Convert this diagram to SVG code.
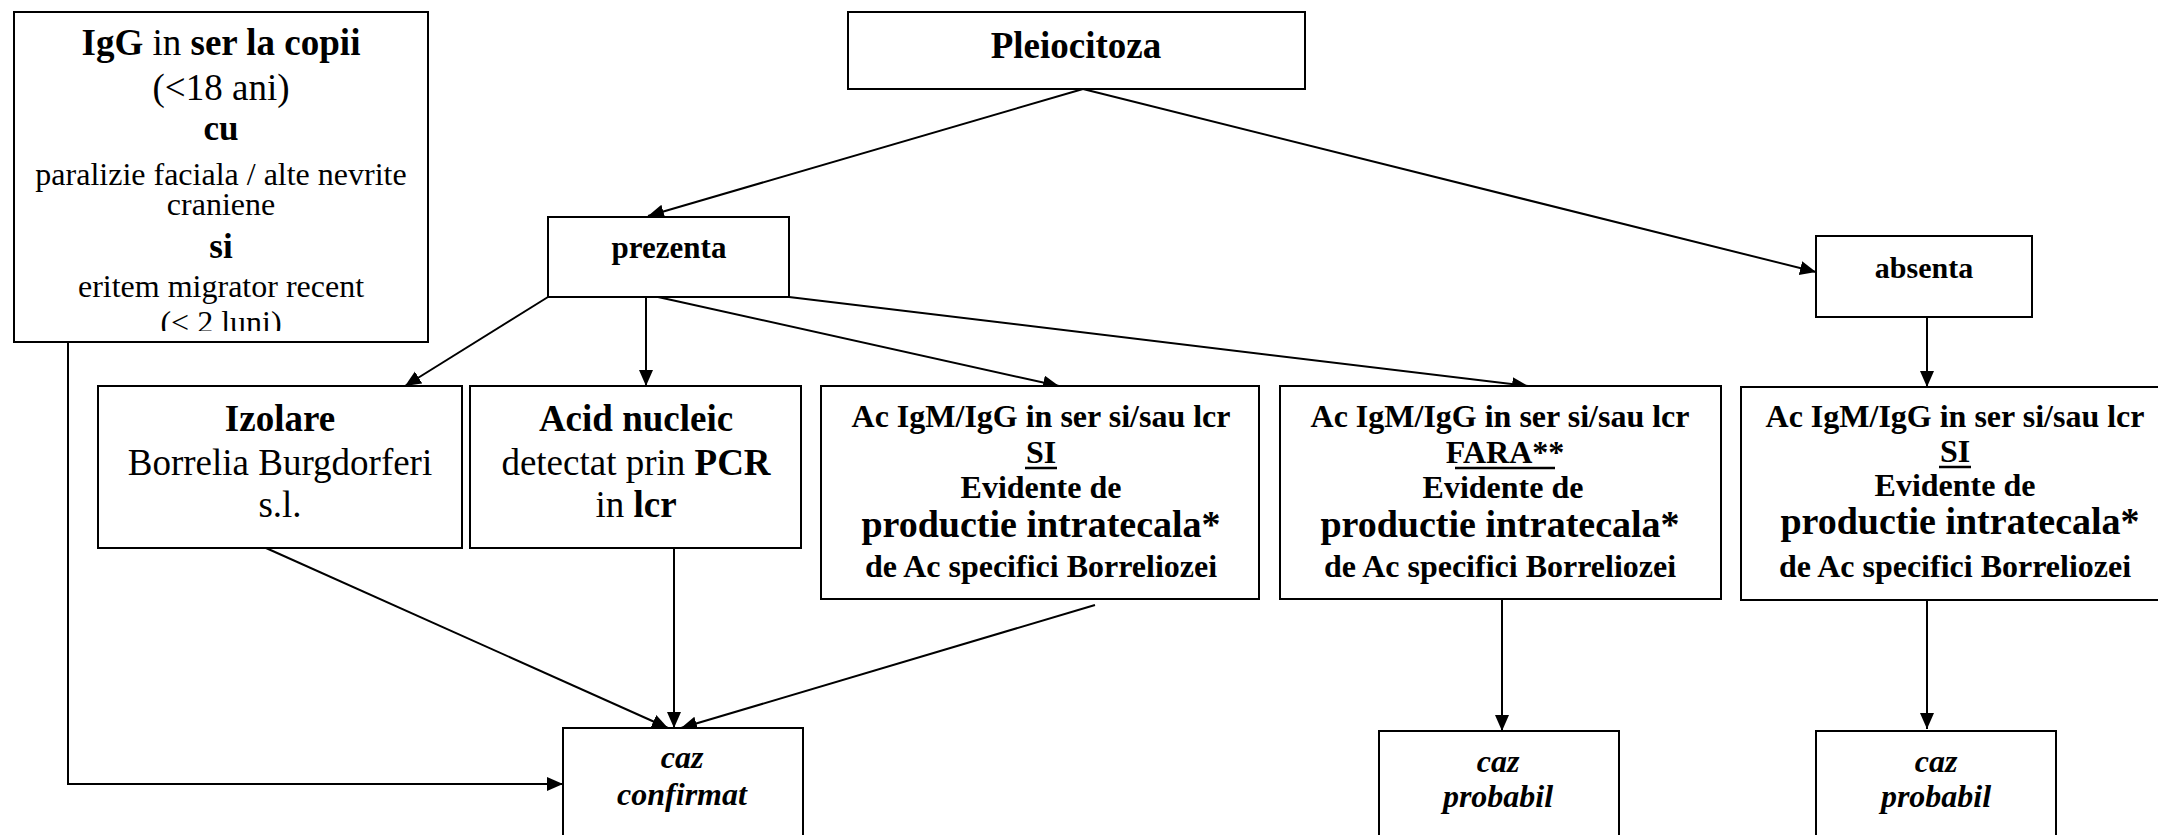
<svg xmlns="http://www.w3.org/2000/svg" width="2158" height="835" viewBox="0 0 2158 835">
<style>
text{font-family:"Liberation Serif","Times New Roman",serif;fill:#000;text-anchor:middle}
.b{font-weight:bold}
.bi{font-weight:bold;font-style:italic}
.box{fill:#fff;stroke:#000;stroke-width:2}
.con{fill:none;stroke:#000;stroke-width:2}
.ul{stroke:#000;stroke-width:2.5}
</style>
<defs>
<marker id="ah" markerUnits="userSpaceOnUse" markerWidth="18" markerHeight="16" refX="16" refY="7" orient="auto">
<path d="M0,0 L16,7 L0,14 Z" fill="#000"/>
</marker>
<clipPath id="clipIgG"><rect x="14" y="12" width="414" height="319"/></clipPath>
</defs>
<rect width="2158" height="835" fill="#fff"/>

<g id="connectors">
<line class="con" x1="1083" y1="89" x2="648" y2="216" marker-end="url(#ah)"/>
<line class="con" x1="1083" y1="89" x2="1816" y2="272" marker-end="url(#ah)"/>
<line class="con" x1="548" y1="297" x2="405" y2="386" marker-end="url(#ah)"/>
<line class="con" x1="646" y1="297" x2="646" y2="386" marker-end="url(#ah)"/>
<line class="con" x1="658" y1="297" x2="1059" y2="386" marker-end="url(#ah)"/>
<line class="con" x1="789" y1="297" x2="1528" y2="386" marker-end="url(#ah)"/>
<line class="con" x1="1927" y1="317" x2="1927" y2="387" marker-end="url(#ah)"/>
<line class="con" x1="266" y1="548" x2="668" y2="728" marker-end="url(#ah)"/>
<line class="con" x1="674" y1="548" x2="674" y2="728" marker-end="url(#ah)"/>
<line class="con" x1="1095" y1="605" x2="681" y2="728" marker-end="url(#ah)"/>
<line class="con" x1="1502" y1="599" x2="1502" y2="731" marker-end="url(#ah)"/>
<line class="con" x1="1927" y1="600" x2="1927" y2="729" marker-end="url(#ah)"/>
<polyline class="con" points="68,342 68,784 563,784" marker-end="url(#ah)"/>
</g>

<g id="igg">
<rect class="box" x="14" y="12" width="414" height="330"/>
<g clip-path="url(#clipIgG)">
<text x="221" y="55" font-size="37"><tspan class="b">IgG</tspan> in <tspan class="b">ser la copii</tspan></text>
<text x="221" y="100" font-size="37">(&lt;18 ani)</text>
<text x="221" y="140" font-size="35" class="b">cu</text>
<text x="221" y="185" font-size="32">paralizie faciala / alte nevrite</text>
<text x="221" y="215" font-size="32">craniene</text>
<text x="221" y="258" font-size="35" class="b">si</text>
<text x="221" y="297" font-size="32">eritem migrator recent</text>
<text x="221" y="333" font-size="32">(&lt; 2 luni)</text>
</g>
</g>

<g id="pleiocitoza">
<rect class="box" x="848" y="12" width="457" height="77"/>
<text x="1076" y="58" font-size="37" class="b">Pleiocitoza</text>
</g>

<g id="prezenta">
<rect class="box" x="548" y="217" width="241" height="80"/>
<text x="669" y="258" font-size="31" class="b">prezenta</text>
</g>

<g id="absenta">
<rect class="box" x="1816" y="236" width="216" height="81"/>
<text x="1924" y="278" font-size="30" class="b">absenta</text>
</g>

<g id="izolare">
<rect class="box" x="98" y="386" width="364" height="162"/>
<text x="280" y="431" font-size="37" class="b">Izolare</text>
<text x="280" y="475" font-size="37">Borrelia Burgdorferi</text>
<text x="280" y="517" font-size="37">s.l.</text>
</g>

<g id="acid">
<rect class="box" x="470" y="386" width="331" height="162"/>
<text x="636" y="431" font-size="37" class="b">Acid nucleic</text>
<text x="636" y="475" font-size="37">detectat prin <tspan class="b">PCR</tspan></text>
<text x="636" y="517" font-size="37">in <tspan class="b">lcr</tspan></text>
</g>

<g id="ac-si-1">
<rect class="box" x="821" y="386" width="438" height="213"/>
<text x="1041" y="427" font-size="32" class="b">Ac IgM/IgG in ser si/sau lcr</text>
<text x="1041" y="463" font-size="32" class="b">SI</text>
<line class="ul" x1="1025" y1="468" x2="1057" y2="468"/>
<text x="1041" y="498" font-size="32" class="b">Evidente de</text>
<text x="1041" y="537" font-size="38" class="b">productie intratecala*</text>
<text x="1041" y="577" font-size="32" class="b">de Ac specifici Borreliozei</text>
</g>

<g id="ac-fara">
<rect class="box" x="1280" y="386" width="441" height="213"/>
<text x="1500" y="427" font-size="32" class="b">Ac IgM/IgG in ser si/sau lcr</text>
<text x="1505" y="463" font-size="32" class="b">FARA**</text>
<line class="ul" x1="1455" y1="468" x2="1555" y2="468"/>
<text x="1503" y="498" font-size="32" class="b">Evidente de</text>
<text x="1500" y="537" font-size="38" class="b">productie intratecala*</text>
<text x="1500" y="577" font-size="32" class="b">de Ac specifici Borreliozei</text>
</g>

<g id="ac-si-2">
<rect class="box" x="1741" y="387" width="440" height="213"/>
<text x="1955" y="427" font-size="32" class="b">Ac IgM/IgG in ser si/sau lcr</text>
<text x="1955" y="462" font-size="32" class="b">SI</text>
<line class="ul" x1="1939" y1="467" x2="1971" y2="467"/>
<text x="1955" y="496" font-size="32" class="b">Evidente de</text>
<text x="1960" y="534" font-size="38" class="b">productie intratecala*</text>
<text x="1955" y="577" font-size="32" class="b">de Ac specifici Borreliozei</text>
</g>

<g id="caz-confirmat">
<rect class="box" x="563" y="728" width="240" height="120"/>
<text x="682" y="768" font-size="32" class="bi">caz</text>
<text x="682" y="805" font-size="32" class="bi">confirmat</text>
</g>

<g id="caz-probabil-1">
<rect class="box" x="1379" y="731" width="240" height="120"/>
<text x="1498" y="772" font-size="32" class="bi">caz</text>
<text x="1498" y="807" font-size="32" class="bi">probabil</text>
</g>

<g id="caz-probabil-2">
<rect class="box" x="1816" y="731" width="240" height="120"/>
<text x="1936" y="772" font-size="32" class="bi">caz</text>
<text x="1936" y="807" font-size="32" class="bi">probabil</text>
</g>
</svg>
